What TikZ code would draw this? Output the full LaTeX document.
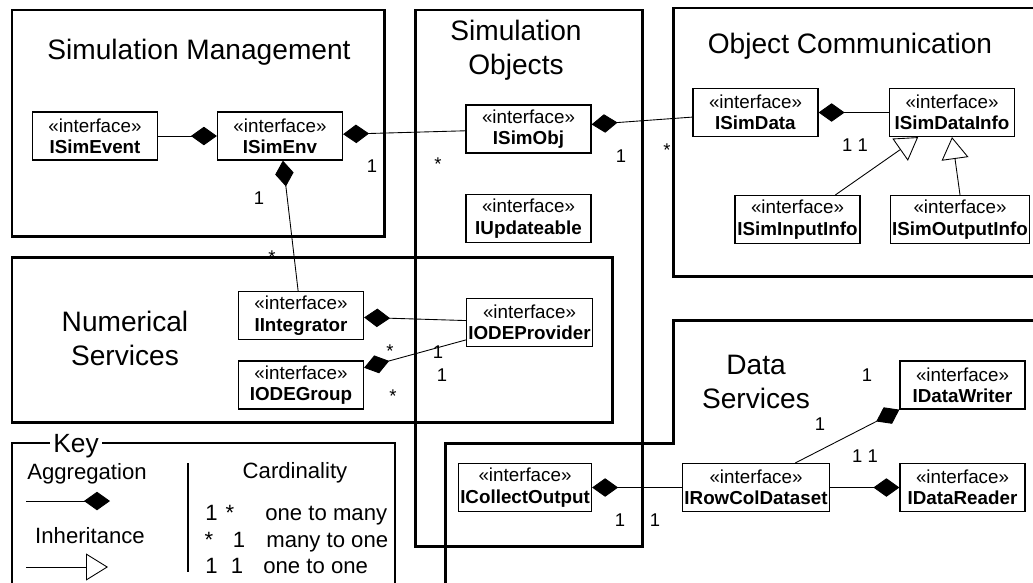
\documentclass[tikz,border=0pt]{standalone}
\usepackage{fontspec}
\setmainfont{Liberation Sans}
\usetikzlibrary{arrows.meta}

\begin{document}
\begin{tikzpicture}[
    x=0.02cm, y=-0.02cm,
    iface/.style={draw, line width=0.7pt, fill=white, minimum width=2.5cm,
                  minimum height=0.96cm, inner xsep=1pt, inner ysep=1pt,
                  align=center, font=\fontsize{10.7}{12.2}\selectfont},
    pkg/.style={line width=1.7pt},
    pkgtitle/.style={align=center, inner sep=0pt,
                     font=\fontsize{16}{19.3}\selectfont},
    agg/.style={line width=0.5pt, -{Diamond[length=0.52cm, width=0.37cm]}},
    inh/.style={line width=0.5pt,
                -{Triangle[open, length=0.44cm, width=0.54cm, fill=white]}},
    card/.style={anchor=base, inner sep=0pt, font=\fontsize{10.5}{12}\selectfont},
    keytext/.style={anchor=base, inner sep=0pt, font=\fontsize{12.6}{15}\selectfont}
  ]
  \useasboundingbox (0,0) rectangle (1033,582);
  \clip (0,0) rectangle (1033,582);

  % Packages
  \draw[pkg] (12,10) rectangle (384,236);
  \draw[pkg] (415,10) rectangle (642,546);
  \draw[pkg] (1045,8) -- (673,8) -- (673,276) -- (1045,276);
  \draw[pkg] (12,257) rectangle (612,422);
  \draw[pkg] (1045,320) -- (673,320) -- (673,443) -- (445,443) -- (445,600);

  \node[pkgtitle] (mgmt)    at (199,52)  {Simulation Management};
  \node[pkgtitle] (objects) at (516,50)  {Simulation\\Objects};
  \node[pkgtitle] (comm)    at (850,46)  {Object Communication};
  \node[pkgtitle] (numsrv)  at (125,338) {Numerical\\Services};
  \node[pkgtitle] (datasrv) at (756,382) {Data\\Services};

  % Interfaces
  \node[iface] (simevent)   at (95,136)      {«interface»\\\textbf{ISimEvent}};
  \node[iface] (simenv)     at (280,136)     {«interface»\\\textbf{ISimEnv}};
  \node[iface] (simobj)     at (528.5,129)   {«interface»\\\textbf{ISimObj}};
  \node[iface] (updateable) at (528.5,218.5) {«interface»\\\textbf{IUpdateable}};
  \node[iface] (simdata)    at (755.5,112.5) {«interface»\\\textbf{ISimData}};
  \node[iface] (datainfo)   at (952,112.5)   {«interface»\\\textbf{ISimDataInfo}};
  \node[iface] (inputinfo)  at (797.5,219.5) {«interface»\\\textbf{ISimInputInfo}};
  \node[iface] (outputinfo) at (960,219.5)   {«interface»\\\textbf{ISimOutputInfo}};
  \node[iface] (integrator) at (301,315.5)   {«interface»\\\textbf{IIntegrator}};
  \node[iface] (odegroup)   at (301,385)     {«interface»\\\textbf{IODEGroup}};
  \node[iface] (odeprov)    at (529.5,322.5) {«interface»\\\textbf{IODEProvider}};
  \node[iface] (collect)    at (525,487.5)   {«interface»\\\textbf{ICollectOutput}};
  \node[iface] (rowcol)     at (756,487.5)   {«interface»\\\textbf{IRowColDataset}};
  \node[iface] (writer)     at (962.5,385)   {«interface»\\\textbf{IDataWriter}};
  \node[iface] (reader)     at (962.5,487.5) {«interface»\\\textbf{IDataReader}};

  % Aggregations
  \draw[agg] (simevent) -- (simenv);
  \draw[agg] (simobj) -- (simenv);
  \draw[agg] (simdata) -- (simobj);
  \draw[agg] (datainfo) -- (simdata);
  \draw[agg] (integrator) -- (simenv);
  \draw[agg] (odeprov) -- (integrator);
  \draw[agg] (odeprov) -- (odegroup);
  \draw[agg] (rowcol) -- (collect);
  \draw[agg] (rowcol.32) -- (writer.south west);
  \draw[agg] (rowcol) -- (reader);

  % Inheritance
  \draw[inh] (inputinfo.33) -- (datainfo.216);
  \draw[inh] (outputinfo.north) -- (datainfo.south);

  % Cardinalities
  \node[card] (c1)  at (372,172.5) {1};
  \node[card] (c2)  at (438,170)   {*};
  \node[card] (c3)  at (621,162)   {1};
  \node[card] (c4)  at (667,156)   {*};
  \node[card] (c5)  at (855,151)   {1 1};
  \node[card] (c6)  at (259,204)   {1};
  \node[card] (c7)  at (272,263)   {*};
  \node[card] (c8)  at (390,357)   {*};
  \node[card] (c9)  at (438,358)   {1};
  \node[card] (c10) at (442,381)   {1};
  \node[card] (c11) at (393,402)   {*};
  \node[card] (c12) at (620,526)   {1};
  \node[card] (c13) at (655,526)   {1};
  \node[card] (c14) at (867,381)   {1};
  \node[card] (c15) at (820,430)   {1};
  \node[card] (c16) at (865,462)   {1 1};

  % Key
  \draw[line width=0.8pt] (12,600) -- (12,443) -- (395,443) -- (395,600);
  \node[keytext, fill=white, inner xsep=2pt, font=\fontsize{15}{17}\selectfont]
    (keylbl) at (76,452) {Key};
  \node[keytext] (agglbl) at (87,479) {Aggregation};
  \coordinate (agga) at (26,501);
  \coordinate (aggb) at (110,501);
  \draw[agg] (agga) -- (aggb);
  \node[keytext] (inhlbl) at (90,543) {Inheritance};
  \coordinate (inha) at (26,567);
  \coordinate (inhb) at (108,567);
  \draw[inh] (inha) -- (inhb);
  \draw[line width=0.6pt] (188,463) -- (188,572);
  \node[keytext] (cardlbl) at (295,478) {Cardinality};

  \node[keytext] (k1a) at (211.5,520) {1};
  \node[keytext] (k1b) at (230,520)   {*};
  \node[keytext, anchor=base west] (k1c) at (265,520) {one to many};
  \node[keytext] (k2a) at (209,547)   {*};
  \node[keytext] (k2b) at (239,547)   {1};
  \node[keytext, anchor=base west] (k2c) at (266,547) {many to one};
  \node[keytext] (k3a) at (211.5,573) {1};
  \node[keytext] (k3b) at (237,573)   {1};
  \node[keytext, anchor=base west] (k3c) at (263,573) {one to one};
\end{tikzpicture}
\end{document}
